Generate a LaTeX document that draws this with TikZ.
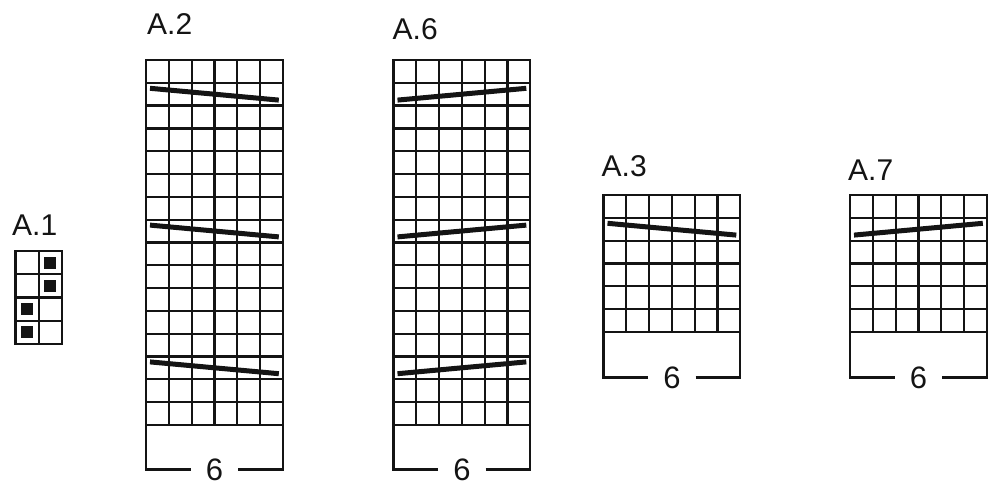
\documentclass[tikz,border=0pt]{standalone}
\usepackage{fontspec}
\setmainfont{Liberation Sans}
\definecolor{ink}{HTML}{141414}
\newcommand\knitgrid[5]{% left, top, cols, rows, cell
  \begin{scope}[shift={(#1,#2)}]
    \foreach \i in {0,...,#3} \draw[gridline] (\i*#5,0) -- (\i*#5,#4*#5);
    \foreach \j in {0,...,#4} \draw[gridline] (0,\j*#5) -- (#3*#5,\j*#5);
  \end{scope}}
\begin{document}
\begin{tikzpicture}[x=1pt,y=-1pt,
  gridline/.style={line width=2.2pt, draw=ink, line cap=rect},
  boxline/.style={line width=2.2pt, draw=ink},
  slantline/.style={line width=5pt, draw=ink},
  chartlabel/.style={font=\fontsize{30}{36}\selectfont, text=ink, anchor=base west, inner sep=0pt},
  countlabel/.style={font=\fontsize{31}{36}\selectfont, text=ink, inner xsep=15pt, inner ysep=0pt, anchor=center},
  stitch/.style={fill=ink}]
\useasboundingbox (0,0) rectangle (1000,500);

% ---------- A.1 ----------
\node[chartlabel] (A1lbl) at (12,235) {A.1};
\knitgrid{15.5}{251}{2}{4}{23.2}
\fill[stitch] (15.5+23.2+5.6, 251+5.6) rectangle +(12,12);
\fill[stitch] (15.5+23.2+5.6, 251+23.2+5.6) rectangle +(12,12);
\fill[stitch] (15.5+5.6, 251+2*23.2+5.6) rectangle +(12,12);
\fill[stitch] (15.5+5.6, 251+3*23.2+5.6) rectangle +(12,12);

% ---------- A.2 ----------
\node[chartlabel] (A2lbl) at (147,35) {A.2};
\knitgrid{146}{60}{6}{16}{22.8}
\foreach \r in {1,7,13}
  \draw[slantline] (150, 60+\r*22.8+5.5) -- (278.8, 60+\r*22.8+17.3);
\coordinate (A2gl) at (146,424.8);
\coordinate (A2gr) at (282.8,424.8);
\node[countlabel] (A2six) at (214.4,469.5) {6};
\draw[boxline] (A2six.west) -| (A2gl);
\draw[boxline] (A2six.east) -| (A2gr);

% ---------- A.6 ----------
\node[chartlabel] (A6lbl) at (392.5,39.5) {A.6};
\knitgrid{393.5}{60}{6}{16}{22.8}
\foreach \r in {1,7,13}
  \draw[slantline] (397.5, 60+\r*22.8+17.3) -- (526.3, 60+\r*22.8+5.5);
\coordinate (A6gl) at (393.5,424.8);
\coordinate (A6gr) at (530.3,424.8);
\node[countlabel] (A6six) at (461.9,469.5) {6};
\draw[boxline] (A6six.west) -| (A6gl);
\draw[boxline] (A6six.east) -| (A6gr);

% ---------- A.3 ----------
\node[chartlabel] (A3lbl) at (601.5,176.5) {A.3};
\knitgrid{603.5}{195}{6}{6}{22.8}
\draw[slantline] (607.5, 195+22.8+5.5) -- (736.3, 195+22.8+17.3);
\coordinate (A3gl) at (603.5,331.8);
\coordinate (A3gr) at (740.3,331.8);
\node[countlabel] (A3six) at (671.9,377.5) {6};
\draw[boxline] (A3six.west) -| (A3gl);
\draw[boxline] (A3six.east) -| (A3gr);

% ---------- A.7 ----------
\node[chartlabel] (A7lbl) at (848,180.5) {A.7};
\knitgrid{850}{195}{6}{6}{22.8}
\draw[slantline] (854, 195+22.8+17.3) -- (982.8, 195+22.8+5.5);
\coordinate (A7gl) at (850,331.8);
\coordinate (A7gr) at (986.8,331.8);
\node[countlabel] (A7six) at (918.4,377.5) {6};
\draw[boxline] (A7six.west) -| (A7gl);
\draw[boxline] (A7six.east) -| (A7gr);
\end{tikzpicture}
\end{document}
